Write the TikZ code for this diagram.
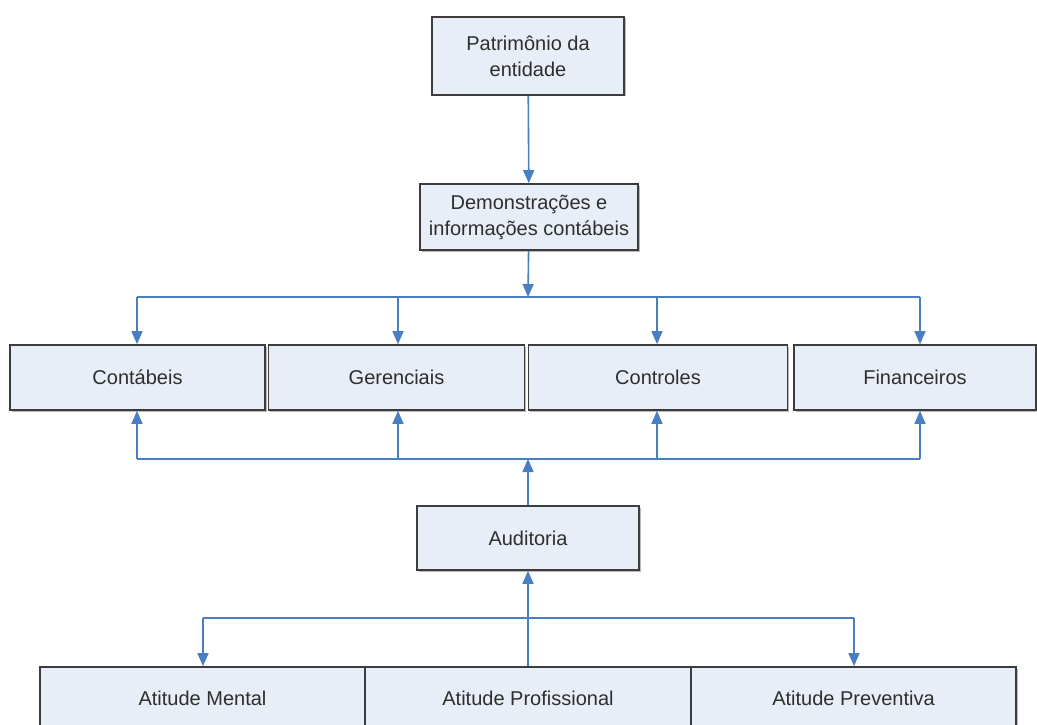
\documentclass[tikz,border=0pt]{standalone}
\usepackage{fontspec}
\setmainfont{Liberation Sans}
\usetikzlibrary{arrows.meta,shadows}
\definecolor{boxfill}{HTML}{E8EEF7}
\definecolor{boxline}{HTML}{3C3C3C}
\definecolor{arr}{HTML}{4A7EC2}
\definecolor{txt}{HTML}{2E2E2E}
\begin{document}
\begin{tikzpicture}[x=1pt,y=-1pt,
  box/.style={draw=boxline,line width=1.6pt,fill=boxfill,inner sep=0pt,
    font=\fontsize{20}{26}\selectfont,text=txt,align=center,
    drop shadow={shadow xshift=1.5pt,shadow yshift=-1.5pt,fill=black!45,opacity=0.6}},
  conn/.style={draw=arr,line width=1.6pt},
  tip/.style={conn,-{Triangle[width=11pt,length=13pt]}}]
\useasboundingbox (0,0) rectangle (1037,725);

% nodes
\node[box,minimum width=192pt,minimum height=78pt] (pat) at (528,56) {Patrimônio da\\entidade};
\node[box,minimum width=218pt,minimum height=66pt] (dem) at (529,217) {Demonstrações e\\informações contábeis};

\node[box,minimum width=255pt,minimum height=65pt] (cont) at (137.5,377.5) {Contábeis};
\node[box,minimum width=256pt,minimum height=65pt] (ger) at (396.5,377.5) {Gerenciais};
\node[box,minimum width=259pt,minimum height=65pt] (ctrl) at (658,377.5) {Controles};
\node[box,minimum width=242pt,minimum height=65pt] (fin) at (915,377.5) {Financeiros};

\node[box,minimum width=222pt,minimum height=64pt] (aud) at (528,538) {Auditoria};

\node[box,minimum width=325pt,minimum height=62pt] (am) at (202.5,698) {Atitude Mental};
\node[box,minimum width=326pt,minimum height=62pt] (apf) at (528,698) {Atitude Profissional};
\node[box,minimum width=325pt,minimum height=62pt] (apv) at (853.5,698) {Atitude Preventiva};

% junction coordinates
\coordinate (j1) at (528,297);
\coordinate (a1) at (137,297);
\coordinate (a2) at (398,297);
\coordinate (a3) at (657,297);
\coordinate (a4) at (920,297);

\coordinate (j2) at (528,459);
\coordinate (b1) at (137,459);
\coordinate (b2) at (398,459);
\coordinate (b3) at (657,459);
\coordinate (b4) at (920,459);

\coordinate (c1) at (203,618);
\coordinate (c2) at (854,618);

% connectors
\draw[tip] (pat) -- (dem);
\draw[tip] (dem) -- (j1);
\draw[conn] (a1) -- (a4);
\draw[tip] (a1) -- (a1 |- cont.north);
\draw[tip] (a2) -- (a2 |- ger.north);
\draw[tip] (a3) -- (a3 |- ctrl.north);
\draw[tip] (a4) -- (a4 |- fin.north);

\draw[tip] (aud) -- (j2);
\draw[conn] (b1) -- (b4);
\draw[tip] (b1) -- (b1 |- cont.south);
\draw[tip] (b2) -- (b2 |- ger.south);
\draw[tip] (b3) -- (b3 |- ctrl.south);
\draw[tip] (b4) -- (b4 |- fin.south);

\draw[tip] (apf) -- (aud);
\draw[conn] (c1) -- (c2);
\draw[tip] (c1) -- (c1 |- am.north);
\draw[tip] (c2) -- (c2 |- apv.north);
\end{tikzpicture}
\end{document}
